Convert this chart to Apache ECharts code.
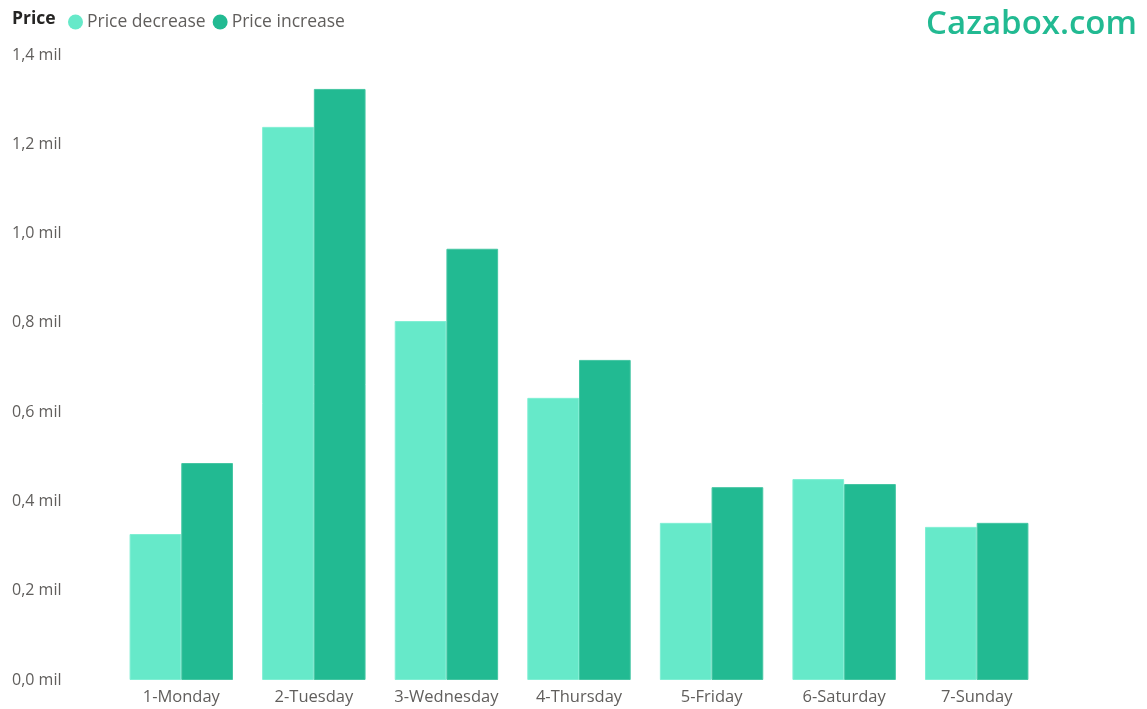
<!DOCTYPE html>
<html>
<head>
<meta charset="utf-8">
<script src="https://cdn.jsdelivr.net/npm/echarts@6/dist/echarts.min.js"></script>
<style>
  html, body { margin: 0; padding: 0; background: #ffffff; }
  #chart { width: 1147px; height: 709px; }
</style>
</head>
<body>
<div id="chart"></div>
<script>
// Average price (millions) by weekday, split by price direction
const days = ['1-Monday', '2-Tuesday', '3-Wednesday', '4-Thursday', '5-Friday', '6-Saturday', '7-Sunday'];
const priceDecrease = [0.327, 1.239, 0.804, 0.632, 0.352, 0.450, 0.343];
const priceIncrease = [0.486, 1.324, 0.966, 0.717, 0.432, 0.439, 0.352];
const yTicks = { min: 0, max: 1.4, step: 0.2 };

const FONT = '"Open Sans", "Noto Sans", sans-serif';
const TEXT = '#605E5C';
const LIGHT = '#66E9C9';
const DARK = '#22BA92';

const chart = echarts.init(document.getElementById('chart'), null, { renderer: 'canvas' });

chart.setOption({
  animation: false,
  textStyle: { fontFamily: FONT },
  graphic: [
    {
      type: 'text', left: 12, top: 10,
      style: { text: 'Price', font: 'bold 17.5px ' + FONT, fill: '#252423' }
    },
    {
      type: 'text', right: 10, top: 8,
      style: { text: 'Cazabox.com', font: '600 33px ' + FONT, fill: DARK }
    }
  ],
  legend: {
    left: 63, top: 8,
    icon: 'circle', itemWidth: 15, itemHeight: 15, itemGap: 7,
    itemStyle: { borderWidth: 0 },
    textStyle: { color: TEXT, fontSize: 17.5, fontFamily: FONT, padding: [0, 0, 0, -1] },
    data: ['Price decrease', 'Price increase']
  },
  grid: { left: 115, right: 104, top: 55, bottom: 29, containLabel: false },
  xAxis: {
    type: 'category',
    data: days,
    axisLine: { show: false },
    axisTick: { show: false },
    axisLabel: { color: TEXT, fontSize: 16.5, fontFamily: FONT, margin: 9, interval: 0, hideOverlap: false }
  },
  yAxis: {
    type: 'value',
    min: yTicks.min, max: yTicks.max, interval: yTicks.step,
    splitLine: { show: false },
    axisLine: { show: false },
    axisTick: { show: false },
    axisLabel: {
      color: TEXT, fontSize: 16, fontFamily: FONT,
      align: 'left', margin: 103,
      formatter: v => v.toFixed(1).replace('.', ',') + ' mil'
    }
  },
  series: [
    {
      name: 'Price decrease', type: 'bar', data: priceDecrease,
      barGap: '0%', barCategoryGap: '22%',
      itemStyle: { color: LIGHT, borderColor: '#80EFD4', borderWidth: 1 }
    },
    {
      name: 'Price increase', type: 'bar', data: priceIncrease,
      barGap: '0%', barCategoryGap: '22%',
      itemStyle: { color: DARK, borderColor: '#45C6A3', borderWidth: 1 }
    }
  ]
});
</script>
</body>
</html>
